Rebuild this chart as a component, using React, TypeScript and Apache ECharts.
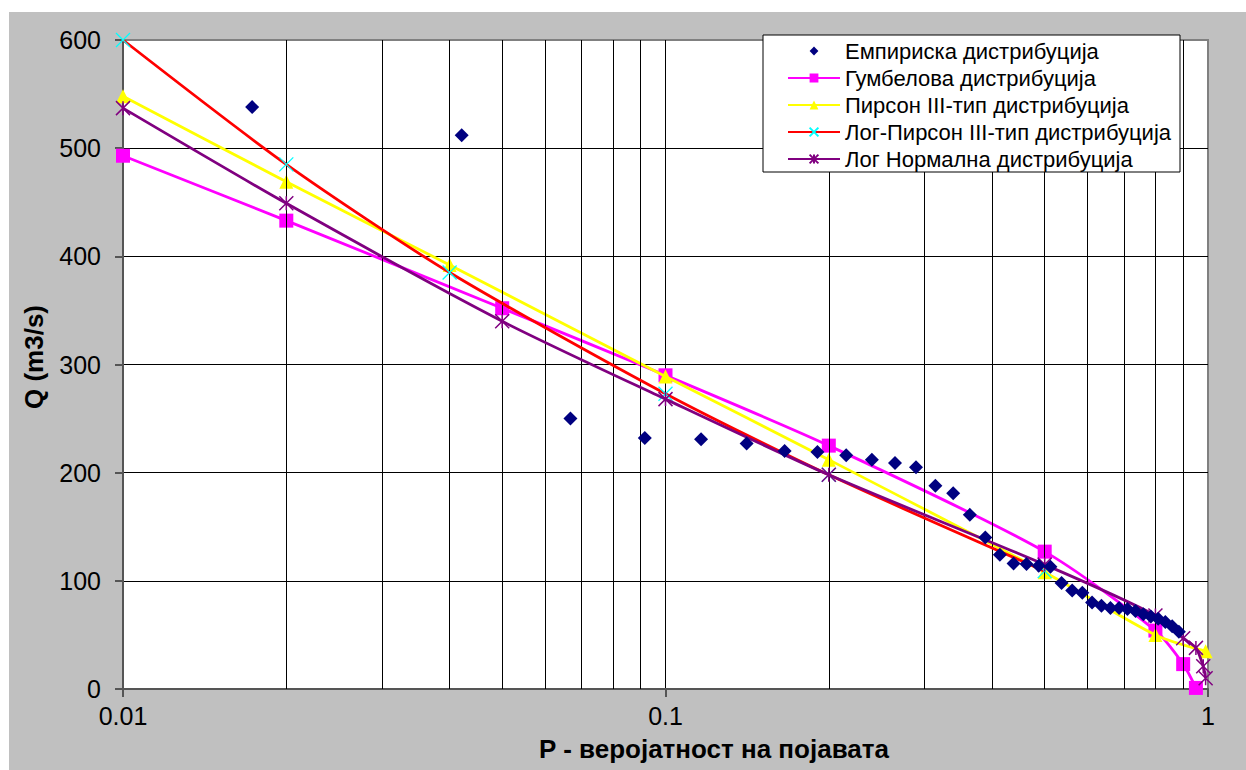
import React, { useEffect, useRef } from "react";
import * as echarts from "echarts";

// Empirical distribution (plotting positions and observed discharges)
const empiricalP = [
  0.0173, 0.0421, 0.0668, 0.0916, 0.1163, 0.1411, 0.1658, 0.1906, 0.2153, 0.2401,
  0.2649, 0.2896, 0.3144, 0.3391, 0.3639, 0.3886, 0.4134, 0.4381, 0.4629, 0.4876,
  0.5124, 0.5371, 0.5619, 0.5866, 0.6114, 0.6361, 0.6609, 0.6856, 0.7104, 0.7351,
  0.7599, 0.7847, 0.8094, 0.8342, 0.8589, 0.8837,
];
const empiricalQ = [
  538, 512, 250, 232, 231, 227, 220, 219, 216, 212,
  209, 205, 188, 181, 161, 140, 124, 116, 115.5, 114,
  113, 98, 91, 89, 80, 77, 75, 75, 74, 72,
  69, 67, 65, 62, 58, 53,
];

// Gumbel
const gumbelP = [0.01, 0.02, 0.05, 0.1, 0.2, 0.5, 0.8, 0.9, 0.95];
const gumbelQ = [493, 433, 352, 290, 225, 127, 54, 23, 1];

// Pearson III
const pearsonP = [0.01, 0.02, 0.04, 0.1, 0.2, 0.5, 0.8, 0.99];
const pearsonQ = [548, 469, 392, 289, 212, 108, 50, 35];

// Log-Pearson III
const logPearsonP = [0.01, 0.02, 0.04, 0.1, 0.2, 0.5];
const logPearsonQ = [600, 485, 385, 273, 198, 109];

// Log-Normal
const logNormalP = [0.01, 0.02, 0.05, 0.1, 0.2, 0.5, 0.8, 0.9, 0.95, 0.98, 0.99];
const logNormalQ = [537, 449, 340, 268, 198, 115, 68, 47, 38, 21, 10];

// Axis ticks / grid
const xTickLabels = ["0.01", "0.1", "1"];
const minorGridP = [
  0.02, 0.03, 0.04, 0.05, 0.06, 0.07, 0.08, 0.09,
  0.2, 0.3, 0.4, 0.5, 0.6, 0.7, 0.8, 0.9,
];

const seriesNames = [
  "Емпириска дистрибуција",
  "Гумбелова дистрибуција",
  "Пирсон III-тип дистрибуција",
  "Лог-Пирсон III-тип дистрибуција",
  "Лог Нормална дистрибуција",
];

const xTitle = "P - веројатност на појавата";
const yTitle = "Q (m3/s)";

const FONT = "'Liberation Sans', Arial, sans-serif";

const zip = (a: number[], b: number[]) => a.map((v, i) => [v, b[i]]);

const X_SYMBOL = "path://M0,0L10,10M10,0L0,10";
const STAR_SYMBOL = "path://M0,0L10,10M10,0L0,10M5,0L5,10";

export default function App() {
  const ref = useRef<HTMLDivElement>(null);

  useEffect(() => {
    if (!ref.current) return;
    const chart = echarts.init(ref.current, null, { renderer: "svg" });

    const option: any = {
      animation: false,
      backgroundColor: "#c0c0c0",
      textStyle: { fontFamily: FONT },
      grid: {
        left: 114,
        top: 28,
        right: 38,
        bottom: 81,
        show: true,
        backgroundColor: "#ffffff",
        borderColor: "#808080",
        borderWidth: 2,
        containLabel: false,
        outerBoundsMode: "none",
      },
      legend: {
        show: true,
        orient: "vertical",
        left: 778,
        top: 25.5,
        padding: 0,
        itemGap: 0,
        itemWidth: 52,
        itemHeight: 11,
        align: "left",
        data: seriesNames,
        selectedMode: false,
        z: 11,
        textStyle: {
          fontFamily: FONT,
          fontSize: 22,
          color: "#000",
          lineHeight: 27,
        },
      },
      xAxis: {
        type: "log",
        logBase: 10,
        min: 0.01,
        max: 1,
        axisLine: { show: true, lineStyle: { color: "#555", width: 2 } },
        axisTick: { show: true, length: 8, lineStyle: { color: "#555", width: 2 } },
        axisLabel: {
          fontFamily: FONT,
          fontSize: 25,
          color: "#000",
          margin: 14,
          formatter: (_v: number, i: number) => xTickLabels[i] ?? "",
        },
        splitLine: {
          show: true,
          showMinLine: false,
          showMaxLine: false,
          lineStyle: { color: "#000", width: 1 },
        },
      },
      yAxis: {
        type: "value",
        min: 0,
        max: 600,
        interval: 100,
        axisLine: { show: true, lineStyle: { color: "#555", width: 2 } },
        axisTick: { show: true, length: 8, lineStyle: { color: "#555", width: 2 } },
        axisLabel: {
          fontFamily: FONT,
          fontSize: 25,
          color: "#000",
          margin: 22,
        },
        splitLine: {
          show: true,
          showMinLine: false,
          showMaxLine: false,
          lineStyle: { color: "#000", width: 1 },
        },
      },
      graphic: [
        {
          type: "rect",
          z: 10,
          shape: { x: 754, y: 23, width: 417, height: 137 },
          style: { fill: "#ffffff", stroke: "#000000", lineWidth: 1 },
        },
        {
          type: "text",
          z: 10,
          x: 705,
          y: 737,
          style: {
            text: xTitle,
            fontFamily: FONT,
            fontSize: 26,
            fontWeight: "bold",
            fill: "#000",
            align: "center",
            verticalAlign: "middle",
            textAlign: "center",
            textVerticalAlign: "middle",
          },
        },
        {
          type: "text",
          z: 10,
          x: 25,
          y: 345,
          rotation: Math.PI / 2,
          style: {
            text: yTitle,
            fontFamily: FONT,
            fontSize: 26,
            fontWeight: "bold",
            fill: "#000",
            align: "center",
            verticalAlign: "middle",
            textAlign: "center",
            textVerticalAlign: "middle",
          },
        },
      ],
      series: [
        {
          name: "__grid",
          type: "line",
          data: [],
          z: 1,
          silent: true,
          markLine: {
            silent: true,
            symbol: ["none", "none"],
            label: { show: false },
            emphasis: { disabled: true },
            lineStyle: { color: "#000", width: 1, type: "solid" },
            data: minorGridP.map((v) => ({ xAxis: v })),
          },
        },
        {
          name: seriesNames[1],
          type: "line",
          data: zip(gumbelP, gumbelQ),
          smooth: 0.25,
          symbol: "rect",
          symbolSize: 14,
          lineStyle: { color: "#FF00FF", width: 2.8 },
          itemStyle: { color: "#FF00FF" },
          z: 3,
        },
        {
          name: seriesNames[2],
          type: "line",
          data: zip(pearsonP, pearsonQ),
          smooth: 0.25,
          symbol: "triangle",
          symbolSize: 14,
          lineStyle: { color: "#FFFF00", width: 2.8 },
          itemStyle: { color: "#FFFF00" },
          z: 4,
        },
        {
          name: seriesNames[3],
          type: "line",
          data: zip(logPearsonP, logPearsonQ),
          smooth: 0.25,
          symbol: X_SYMBOL,
          symbolSize: 14,
          lineStyle: { color: "#FF0000", width: 2.8 },
          itemStyle: { color: "rgba(0,0,0,0)", borderColor: "#00FFFF", borderWidth: 1.3 },
          z: 5,
        },
        {
          name: seriesNames[4],
          type: "line",
          data: zip(logNormalP, logNormalQ),
          smooth: 0.25,
          symbol: STAR_SYMBOL,
          symbolSize: 14,
          lineStyle: { color: "#800080", width: 2.8 },
          itemStyle: { color: "rgba(0,0,0,0)", borderColor: "#800080", borderWidth: 1.5 },
          z: 6,
        },
        {
          name: seriesNames[0],
          type: "line",
          data: zip(empiricalP, empiricalQ),
          symbol: "diamond",
          symbolSize: 14,
          showSymbol: true,
          lineStyle: { width: 0, opacity: 0 },
          itemStyle: { color: "#000080" },
          z: 7,
        },
      ],
    };

    chart.setOption(option);
    return () => chart.dispose();
  }, []);

  return (
    <div
      ref={ref}
      style={{ position: "absolute", left: 9, top: 12, width: 1237, height: 758 }}
    />
  );
}
